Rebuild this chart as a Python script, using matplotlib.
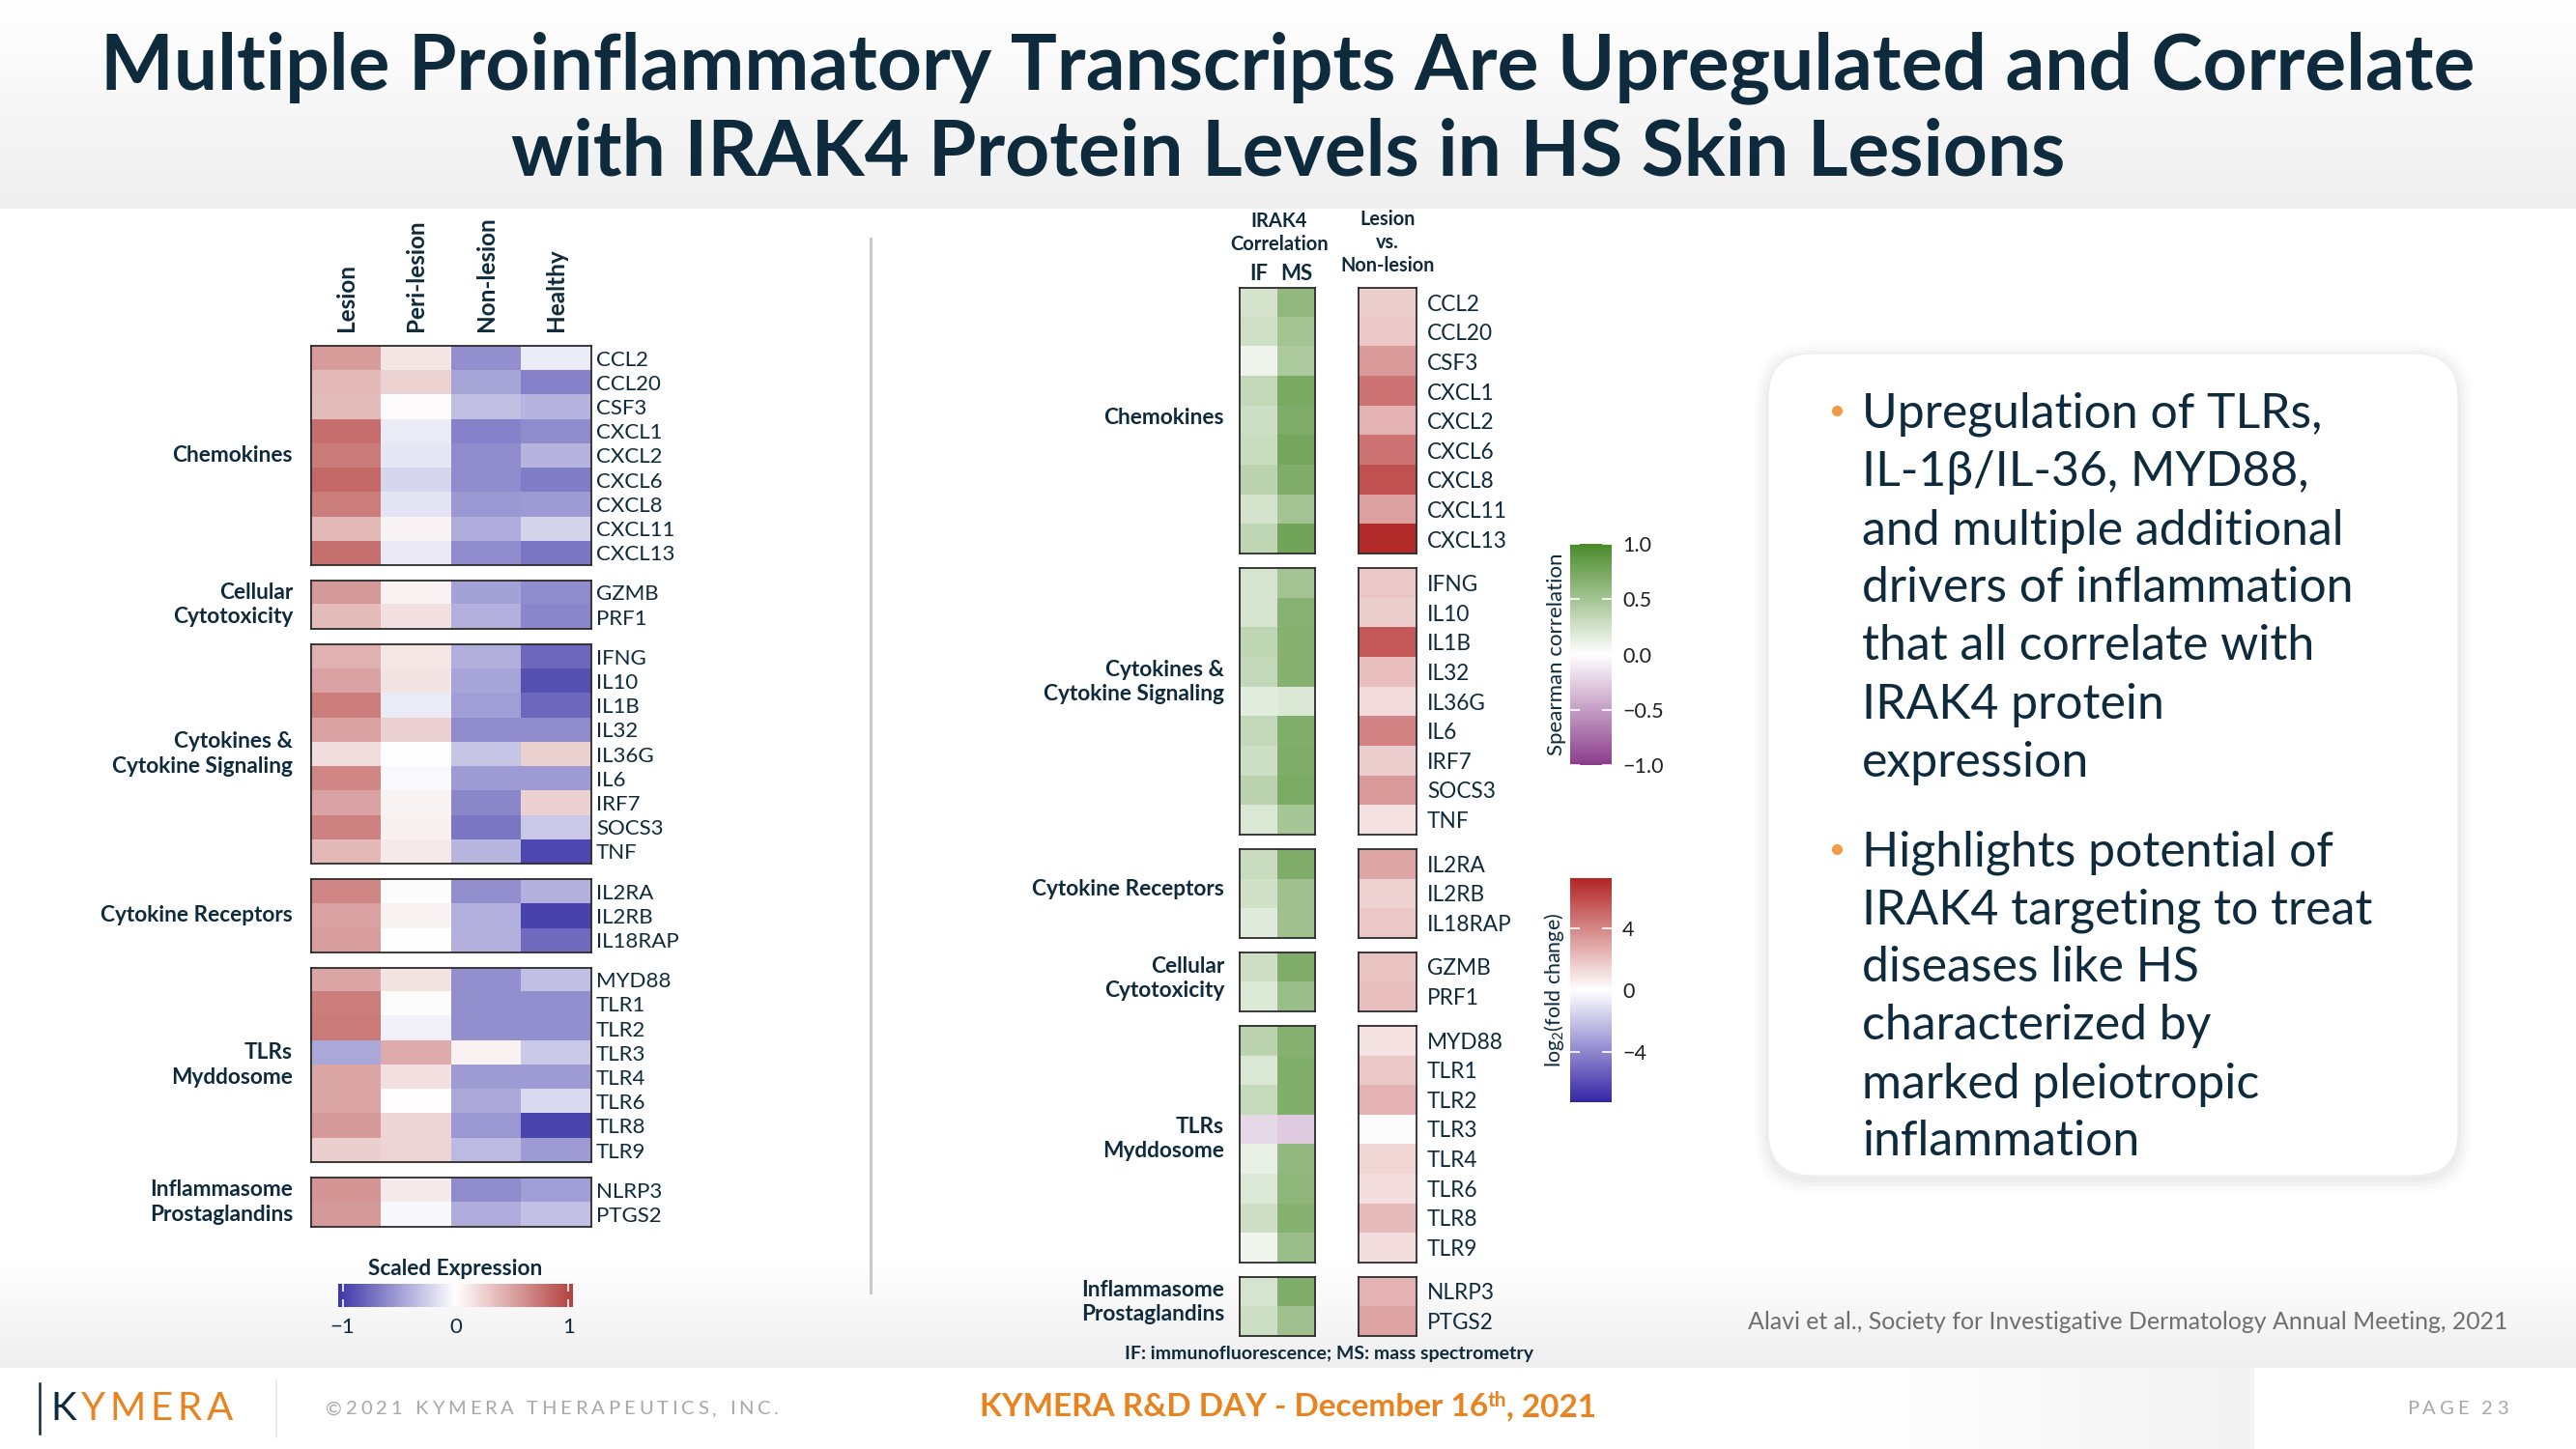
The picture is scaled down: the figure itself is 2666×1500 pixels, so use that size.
import numpy as np
import matplotlib
matplotlib.use("Agg")
import matplotlib.pyplot as plt
from matplotlib.colors import LinearSegmentedColormap, Normalize
from matplotlib.patches import FancyBboxPatch
import matplotlib.cm as cm

plt.rcParams['font.family'] = ['Lato', 'DejaVu Sans']
plt.rcParams['mathtext.fontset'] = 'custom'
plt.rcParams['mathtext.rm'] = 'Lato'
plt.rcParams['mathtext.it'] = 'Lato:italic'
plt.rcParams['mathtext.bf'] = 'Lato:bold'

# ---------------- data ----------------
conditions = ['Lesion', 'Peri-lesion', 'Non-lesion', 'Healthy']
corr_cols = ['IF', 'MS']

chemokine_genes = ['CCL2', 'CCL20', 'CSF3', 'CXCL1', 'CXCL2', 'CXCL6', 'CXCL8', 'CXCL11', 'CXCL13']
cytotox_genes = ['GZMB', 'PRF1']
cytokine_genes = ['IFNG', 'IL10', 'IL1B', 'IL32', 'IL36G', 'IL6', 'IRF7', 'SOCS3', 'TNF']
receptor_genes = ['IL2RA', 'IL2RB', 'IL18RAP']
tlr_genes = ['MYD88', 'TLR1', 'TLR2', 'TLR3', 'TLR4', 'TLR6', 'TLR8', 'TLR9']
inflam_genes = ['NLRP3', 'PTGS2']

# scaled expression (Lesion, Peri-lesion, Non-lesion, Healthy)
chemokine_expr = [[0.54, 0.14, -0.57, -0.10], [0.38, 0.24, -0.47, -0.65], [0.36, 0.02, -0.33, -0.39],
                  [0.78, -0.10, -0.65, -0.60], [0.72, -0.13, -0.60, -0.39], [0.82, -0.21, -0.60, -0.67],
                  [0.70, -0.14, -0.53, -0.52], [0.38, 0.06, -0.43, -0.22], [0.77, -0.11, -0.60, -0.70]]
cytotox_expr = [[0.55, 0.07, -0.48, -0.60], [0.36, 0.16, -0.40, -0.62]]
cytokine_expr = [[0.42, 0.13, -0.41, -0.78], [0.50, 0.15, -0.47, -0.90], [0.70, -0.10, -0.50, -0.78],
                 [0.50, 0.25, -0.60, -0.60], [0.18, 0.00, -0.30, 0.25], [0.65, -0.03, -0.52, -0.52],
                 [0.50, 0.07, -0.62, 0.25], [0.68, 0.08, -0.70, -0.28], [0.38, 0.12, -0.38, -0.95]]
receptor_expr = [[0.65, -0.01, -0.57, -0.40], [0.50, 0.07, -0.40, -0.97], [0.52, 0.00, -0.40, -0.77]]
tlr_expr = [[0.48, 0.15, -0.57, -0.33], [0.70, -0.01, -0.57, -0.57], [0.72, -0.07, -0.57, -0.57],
            [-0.45, 0.45, 0.07, -0.28], [0.48, 0.17, -0.52, -0.52], [0.48, 0.01, -0.44, -0.20],
            [0.55, 0.22, -0.53, -0.96], [0.26, 0.22, -0.35, -0.52]]
inflam_expr = [[0.57, 0.12, -0.60, -0.50], [0.55, -0.04, -0.43, -0.32]]

# IRAK4 Spearman correlation (IF, MS)
chemokine_corr = [[0.23, 0.60], [0.26, 0.50], [0.09, 0.45], [0.33, 0.73], [0.28, 0.70],
                  [0.29, 0.75], [0.37, 0.70], [0.23, 0.50], [0.35, 0.78]]
cytotox_corr = [[0.27, 0.70], [0.18, 0.55]]
cytokine_corr = [[0.22, 0.50], [0.22, 0.65], [0.35, 0.66], [0.33, 0.66], [0.15, 0.20],
                 [0.33, 0.68], [0.28, 0.70], [0.38, 0.72], [0.20, 0.48]]
receptor_corr = [[0.30, 0.70], [0.25, 0.52], [0.17, 0.52]]
tlr_corr = [[0.37, 0.66], [0.20, 0.68], [0.32, 0.68], [-0.20, -0.27], [0.12, 0.60],
            [0.18, 0.62], [0.27, 0.66], [0.08, 0.55]]
inflam_corr = [[0.22, 0.70], [0.28, 0.52]]

# log2 fold change, Lesion vs. Non-lesion
chemokine_fc = [1.6, 1.8, 3.3, 4.6, 2.5, 4.6, 5.7, 3.1, 7.0]
cytotox_fc = [2.0, 2.1]
cytokine_fc = [1.8, 1.6, 5.5, 2.1, 1.2, 4.1, 1.6, 3.3, 1.0]
receptor_fc = [2.9, 1.5, 1.8]
tlr_fc = [1.0, 1.8, 2.5, -0.1, 1.4, 1.1, 2.2, 1.1]
inflam_fc = [2.5, 3.0]

group_titles = {'chem': 'Chemokines', 'cell': 'Cellular\nCytotoxicity',
                'cyto': 'Cytokines &\nCytokine Signaling', 'rec': 'Cytokine Receptors',
                'tlr': 'TLRs\nMyddosome', 'infl': 'Inflammasome\nProstaglandins'}
genes = {'chem': chemokine_genes, 'cell': cytotox_genes, 'cyto': cytokine_genes,
         'rec': receptor_genes, 'tlr': tlr_genes, 'infl': inflam_genes}
expr = {'chem': chemokine_expr, 'cell': cytotox_expr, 'cyto': cytokine_expr,
        'rec': receptor_expr, 'tlr': tlr_expr, 'infl': inflam_expr}
corr = {'chem': chemokine_corr, 'cell': cytotox_corr, 'cyto': cytokine_corr,
        'rec': receptor_corr, 'tlr': tlr_corr, 'infl': inflam_corr}
fc = {'chem': chemokine_fc, 'cell': cytotox_fc, 'cyto': cytokine_fc,
      'rec': receptor_fc, 'tlr': tlr_fc, 'infl': inflam_fc}
left_order = ['chem', 'cell', 'cyto', 'rec', 'tlr', 'infl']
mid_order = ['chem', 'cyto', 'rec', 'cell', 'tlr', 'infl']
mid_label_shift = {'chem': -3, 'cyto': -20, 'rec': -4, 'cell': -3, 'tlr': -5, 'infl': -4}

# ---------------- style ----------------
NAVY = '#0e2a3d'
ORANGE = '#e8831f'
BULLET = '#f29a45'
GRAYTXT = '#a8a8a8'

cmap_expr = LinearSegmentedColormap.from_list('expr', ['#3d36a8', '#ffffff', '#b3403f'])
norm_expr = Normalize(-1.04, 1.04)
cmap_corr = LinearSegmentedColormap.from_list('corr', ['#8a3d8a', '#ffffff', '#4a8a2a'])
norm_corr = Normalize(-1, 1)
cmap_fc = LinearSegmentedColormap.from_list('fc', ['#3526a6', '#ffffff', '#b22525'])
norm_fc = Normalize(-7.2, 7.2)

W, H = 2666, 1500
fig = plt.figure(figsize=(W / 100, H / 100), dpi=100)
ax0 = fig.add_axes([0, 0, 1, 1])
ax0.axis('off')
renderer = fig.canvas.get_renderer()


def px_axes(x0, y0, x1, y1):
    return fig.add_axes([x0 / W, 1 - y1 / H, (x1 - x0) / W, (y1 - y0) / H])


def measure(s, fs, **kw):
    t = ax0.text(0, 0, s, fontsize=fs, **kw)
    w = t.get_window_extent(renderer).width
    t.remove()
    return w


def fit_fs(s, target, fs0=20, **kw):
    return fs0 * target / measure(s, fs0, **kw)


def tracked(x, y, s, fs, target_w, colors, ha='left', **kw):
    base = measure('xx', fs, **kw)
    adv = [measure('x' + c + 'x', fs, **kw) - base for c in s]
    extra = (target_w - sum(adv)) / (len(s) - 1)
    total = sum(adv) + extra * (len(s) - 1)
    cur = x if ha == 'left' else (x - total if ha == 'right' else x - total / 2)
    for c, a, col in zip(s, adv, colors):
        ax0.text(cur, y, c, fontsize=fs, color=col, ha='left', va='center', **kw)
        cur += a + extra


# ---------------- background ----------------
ax0.set_xlim(0, W)
ax0.set_ylim(H, 0)
grad = np.linspace(0, 1, 100).reshape(-1, 1)
ax0.imshow(grad, extent=[0, W, 216, 0], cmap=LinearSegmentedColormap.from_list('g1', ['#ffffff', '#efefef']),
           aspect='auto', zorder=0)
ax0.imshow(grad, extent=[0, W, 1416, 1300], cmap=LinearSegmentedColormap.from_list('g2', ['#ffffff', '#efefef']),
           aspect='auto', zorder=0)
ax0.imshow(grad.T, extent=[1900, 2333, 1500, 1416], cmap=LinearSegmentedColormap.from_list('g3', ['#ffffff', '#f3f3f3']),
           aspect='auto', zorder=0)

# ---------------- title ----------------
t1 = 'Multiple Proinflammatory Transcripts Are Upregulated and Correlate'
t2 = 'with IRAK4 Protein Levels in HS Skin Lesions'
fs_title = fit_fs(t1, 2460, fontweight='bold')
ax0.text(1333, 92, t1, fontsize=fs_title, fontweight='bold', color=NAVY, ha='center', va='baseline')
ax0.text(1333, 181, t2, fontsize=fs_title, fontweight='bold', color=NAVY, ha='center', va='baseline')

# divider
ax0.plot([901, 901], [247, 1338], color='#c9c9c9', lw=2.2, zorder=1)

# ---------------- left heatmap ----------------
row_h, gap, top = 25.2, 16, 358
for i, g in enumerate(left_order):
    n = len(genes[g])
    y0, y1 = top, top + n * row_h
    ax = px_axes(322, y0, 612, y1)
    ax.imshow(np.array(expr[g]), cmap=cmap_expr, norm=norm_expr, aspect='auto', interpolation='nearest')
    ax.set_yticks(range(n), labels=genes[g])
    ax.yaxis.tick_right()
    ax.tick_params(axis='y', length=0, pad=3.5, labelsize=16, labelcolor=NAVY)
    if i == 0:
        ax.set_xticks(range(4), labels=conditions, rotation=90, fontweight='bold', fontsize=17.5, color=NAVY)
        ax.xaxis.tick_top()
        ax.tick_params(axis='x', length=0, pad=11)
    else:
        ax.set_xticks([])
    for s in ax.spines.values():
        s.set_linewidth(1.3)
        s.set_color('#2b2b2b')
    ax0.text(303, (y0 + y1) / 2, group_titles[g], fontsize=16.3, fontweight='bold', color=NAVY,
             ha='right', va='center', linespacing=1.25)
    top = y1 + gap

# scaled expression colorbar
ax0.text(471, 1313, 'Scaled Expression', fontsize=16.3, fontweight='bold', color=NAVY, ha='center', va='center')
cax = px_axes(350, 1329, 593, 1353)
cb = fig.colorbar(cm.ScalarMappable(norm=norm_expr, cmap=cmap_expr), cax=cax, orientation='horizontal',
                  ticks=[-1, 0, 1])
cb.outline.set_visible(False)
cb.ax.set_xticklabels(['\u22121', '0', '1'])
cb.ax.tick_params(direction='in', color='white', length=6, width=1.2, top=True, bottom=True,
                  labelsize=16, labelcolor=NAVY, pad=8)

# ---------------- middle heatmaps ----------------
row_h, gap, top = 30.6, 15, 298
for i, g in enumerate(mid_order):
    n = len(genes[g])
    y0, y1 = top, top + n * row_h
    axg = px_axes(1283, y0, 1361, y1)
    axg.imshow(np.array(corr[g]), cmap=cmap_corr, norm=norm_corr, aspect='auto', interpolation='nearest')
    axg.set_yticks([])
    if i == 0:
        axg.set_xticks(range(2), labels=corr_cols, fontweight='bold', fontsize=16, color=NAVY)
        axg.xaxis.tick_top()
        axg.tick_params(axis='x', length=0, pad=3)
    else:
        axg.set_xticks([])
    axr = px_axes(1406, y0, 1466, y1)
    axr.imshow(np.array(fc[g]).reshape(-1, 1), cmap=cmap_fc, norm=norm_fc, aspect='auto', interpolation='nearest')
    axr.set_xticks([])
    axr.set_yticks(range(n), labels=genes[g])
    axr.yaxis.tick_right()
    axr.tick_params(axis='y', length=0, pad=8, labelsize=16.3, labelcolor=NAVY)
    for a in (axg, axr):
        for s in a.spines.values():
            s.set_linewidth(1.3)
            s.set_color('#2b2b2b')
    ax0.text(1267, (y0 + y1) / 2 + mid_label_shift[g], group_titles[g], fontsize=16.3, fontweight='bold',
             color=NAVY, ha='right', va='center', linespacing=1.25)
    top = y1 + gap

for txt, y in [('IRAK4', 229), ('Correlation', 253)]:
    ax0.text(1324, y, txt, fontsize=14.5, fontweight='bold', color=NAVY, ha='center', va='center')
for txt, y in [('Lesion', 227), ('vs.', 251), ('Non-lesion', 275)]:
    ax0.text(1436, y, txt, fontsize=14.3, fontweight='bold', color=NAVY, ha='center', va='center')

# Spearman colorbar
cax = px_axes(1625, 563, 1668, 792)
cb = fig.colorbar(cm.ScalarMappable(norm=norm_corr, cmap=cmap_corr), cax=cax, ticks=[-1, -0.5, 0, 0.5, 1])
cb.outline.set_visible(False)
cb.ax.set_yticklabels(['\u22121.0', '\u22120.5', '0.0', '0.5', '1.0'])
cb.ax.tick_params(direction='in', color='white', length=7, width=1.2, left=True, right=True,
                  labelleft=False, labelright=True, labelsize=15.5, labelcolor='#1e1e1e', pad=8)
cb.ax.yaxis.set_label_position('left')
cb.set_label('Spearman correlation', fontsize=16, color=NAVY, labelpad=3)

# log2 fold change colorbar
cax = px_axes(1625, 909, 1668, 1141)
cb = fig.colorbar(cm.ScalarMappable(norm=norm_fc, cmap=cmap_fc), cax=cax, ticks=[-4, 0, 4])
cb.outline.set_visible(False)
cb.ax.set_yticklabels(['\u22124', '0', '4'])
cb.ax.tick_params(direction='in', color='white', length=7, width=1.2, left=True, right=True,
                  labelleft=False, labelright=True, labelsize=15.5, labelcolor='#1e1e1e', pad=8)
cb.ax.yaxis.set_label_position('left')
cb.set_label(r'log$_2$(fold change)', fontsize=15.5, color=NAVY, labelpad=3)

fs_fn = fit_fs('IF: immunofluorescence; MS: mass spectrometry', 421, fontweight='bold')
ax0.text(1375, 1401, 'IF: immunofluorescence; MS: mass spectrometry', fontsize=fs_fn, fontweight='bold',
         color=NAVY, ha='center', va='center')

# ---------------- right text box ----------------
for k, al in enumerate([0.025, 0.02, 0.015, 0.01]):
    d = 3 + 4 * k
    ax0.add_patch(FancyBboxPatch((1830 - d, 366 - d + 4), 714 + 2 * d, 851 + 2 * d,
                                 boxstyle='round,pad=0,rounding_size=%d' % (45 + d),
                                 facecolor='#000000', edgecolor='none', alpha=al, zorder=1))
ax0.add_patch(FancyBboxPatch((1830, 366), 714, 851, boxstyle='round,pad=0,rounding_size=45',
                             facecolor='white', edgecolor='#eeeeee', lw=1, zorder=2))
bullet1 = ['Upregulation of TLRs,', 'IL-1\u03b2/IL-36, MYD88,', 'and multiple additional',
           'drivers of inflammation', 'that all correlate with', 'IRAK4 protein', 'expression']
bullet2 = ['Highlights potential of', 'IRAK4 targeting to treat', 'diseases like HS',
           'characterized by', 'marked pleiotropic', 'inflammation']
fs_b = fit_fs('drivers of inflammation', 510)
em = fs_b * 100 / 72
for lines, ys in [(bullet1, [425, 485, 546, 605, 665, 726, 786]),
                  (bullet2, [879, 939, 998, 1058, 1119, 1178])]:
    ax0.plot([1901], [ys[0]], 'o', color=BULLET, markersize=7, zorder=3)
    for txt, y in zip(lines, ys):
        ax0.text(1927, y + 0.36 * em, txt, fontsize=fs_b, color=NAVY, ha='left', va='baseline', zorder=3)

cit = 'Alavi et al., Society for Investigative Dermatology Annual Meeting, 2021'
fs_c = fit_fs(cit, 789)
ax0.text(2595, 1369, cit, fontsize=fs_c, color='#6f6f6f', ha='right', va='center')

# ---------------- footer ----------------
ax0.plot([41, 41], [1432, 1484], color=NAVY, lw=1.8)
tracked(52, 1459, 'KYMERA', 29, 189, [NAVY] + [ORANGE] * 5)
ax0.plot([286, 286], [1428, 1488], color='#e8e8e8', lw=1.2)
s = '\u00a92021 KYMERA THERAPEUTICS, INC.'
tracked(337, 1459, s, 14.5, 469, [GRAYTXT] * len(s))
tracked(2596, 1459, 'PAGE 23', 14.5, 105, [GRAYTXT] * 7, ha='right')

pieces = [('KYMERA R&D DAY - December 16', 24, 0), ('th', 15, -10), (', 2021', 24, 0)]
widths = [measure(p, f, fontweight='bold') for p, f, _ in pieces]
cur = 1333 - sum(widths) / 2
for (p, f, dy), w in zip(pieces, widths):
    ax0.text(cur, 1457 + 9 + dy, p, fontsize=f, fontweight='bold', color=ORANGE, ha='left', va='baseline')
    cur += w

ax0.set_xlim(0, W)
ax0.set_ylim(H, 0)
fig.savefig('out.png', dpi=100)
